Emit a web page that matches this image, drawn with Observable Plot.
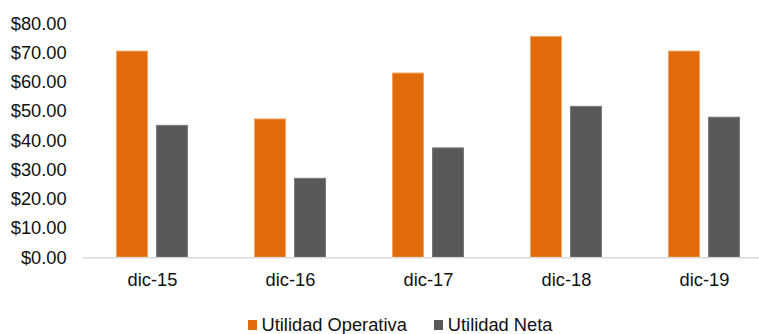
<!DOCTYPE html>
<html>
<head>
<meta charset="utf-8">
<script src="https://cdn.jsdelivr.net/npm/d3@7"></script>
<script src="https://cdn.jsdelivr.net/npm/@observablehq/plot@0.6"></script>
<style>
  html, body { margin: 0; padding: 0; background: #fff; overflow: hidden; }
  body { width: 759px; height: 334px; font-family: "Liberation Sans", Arial, sans-serif; }
  #legend { position: absolute; left: 247.5px; top: 315px; display: flex; align-items: center; font-size: 18.3px; color: #111; line-height: 20px; }
  #legend .item { display: flex; align-items: center; }
  #legend .sw { width: 9px; height: 10px; margin-right: 5px; }
</style>
</head>
<body>
<div id="chart"></div>
<div id="legend"></div>
<script>
// Periods on the x axis
const periods = ["dic-15", "dic-16", "dic-17", "dic-18", "dic-19"];
// Series names
const seriesNames = ["Utilidad Operativa", "Utilidad Neta"];
// Values per period
const utilidadOperativa = [70.5, 47.3, 63.0, 75.5, 70.5];
const utilidadNeta = [45.1, 27.0, 37.4, 51.6, 47.9];
// Y axis ticks
const yTicks = [0, 10, 20, 30, 40, 50, 60, 70, 80];
const seriesColors = ["#E36C0A", "#595959"];
const seriesStrokes = ["#F1A366", "#7A7A7A"];

const rows = [];
periods.forEach((p, i) => {
  rows.push({period: p, series: seriesNames[0], value: utilidadOperativa[i]});
  rows.push({period: p, series: seriesNames[1], value: utilidadNeta[i]});
});

const chart = Plot.plot({
  width: 759,
  height: 300,
  marginLeft: 82.5,
  marginRight: 0,
  marginTop: 23.3,
  marginBottom: 42.7,
  style: {fontFamily: "'Liberation Sans', Arial, sans-serif", fontSize: "18.3px", color: "#111", background: "#fff"},
  fx: {domain: periods, range: [82.5, 772.9], padding: 0, label: null, axis: "bottom", tickSize: 0, tickPadding: 15.4},
  x: {domain: seriesNames, paddingInner: 0.225, paddingOuter: 0.8375, axis: null},
  y: {domain: [0, 80], ticks: yTicks, tickFormat: d => "$" + d.toFixed(2), tickSize: 0, tickPadding: 16.8, label: null},
  color: {domain: seriesNames, range: seriesColors},
  marks: [
    Plot.barY(rows, {
      fx: "period",
      x: "series",
      y: "value",
      fill: "series",
      stroke: d => seriesStrokes[seriesNames.indexOf(d.series)],
      strokeWidth: 1
    }),
    Plot.ruleY([0], {stroke: "#D9D9D9", strokeWidth: 1.5})
  ]
});
document.getElementById("chart").appendChild(chart);

// Legend below the plot
const legend = d3.select("#legend");
seriesNames.forEach((name, i) => {
  const item = legend.append("div").attr("class", "item").style("margin-right", i === 0 ? "27px" : "0");
  item.append("div").attr("class", "sw").style("background", seriesColors[i]);
  item.append("span").text(name);
});
</script>
</body>
</html>
